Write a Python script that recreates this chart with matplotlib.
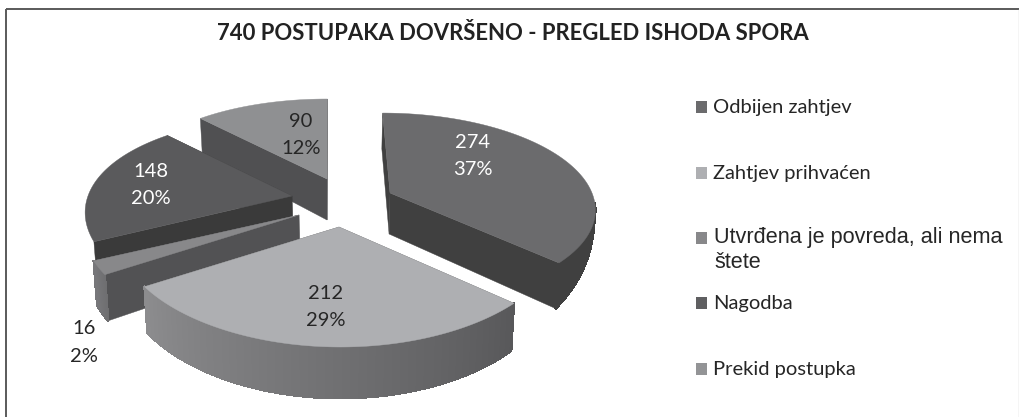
import numpy as np
import matplotlib
matplotlib.use("Agg")
import matplotlib.pyplot as plt
from matplotlib.patches import Polygon, Rectangle
from matplotlib.collections import PolyCollection

title = "740 POSTUPAKA DOVRŠENO - PREGLED ISHODA SPORA"
categories = ["Odbijen zahtjev", "Zahtjev prihvaćen", "Utvrđena je povreda, ali nema\nštete", "Nagodba", "Prekid postupka"]
values = [274, 212, 16, 148, 90]
percents = ["37%", "29%", "2%", "20%", "12%"]

# styles per slice
apex = [(390, 193), (339, 227), (299, 215), (292, 196), (327, 179)]
radius_scale = [1.0, 1.07, 1.05, 1.01, 1.0]
radius_y = [91.7, 96.0, 96.0, 96.0, 96.0]
persp_y = [0.147, 0.2, 0.2, 0.2, 0.2]
top_col = ["#6b6b6d", "#aeafb2", "#88888a", "#5a5a5c", "#8f9092"]
face_col = ["#404040", "#606060", "#525254", "#3a3a3a", "#505052"]
wall_l = ["#404040", "#58585a", "#6e6e70", "#5a5a5c", "#8f9092"]
wall_r = ["#404040", "#8c8c8e", "#77777a", "#5a5a5c", "#8f9092"]
wall_vmin = [0.1, -1.0, -1.0, 2.0, 2.0]
wall_taper = [True, False, False, False, False]
label_pos = [(473, 155.5), (326, 307), (84, 342.5), (151, 185), (301, 134.5)]
label_col = ["white", "#262626", "#262626", "white", "#262626"]
legend_col = ["#6b6b6d", "#aeafb2", "#88888a", "#5f5f61", "#939496"]
legend_y = [107, 173, 238, 303, 369]
order = [4, 3, 0, 2, 1]

RX, KX, DEPTH, VX, SHRINK = 202.0, 0.14, 41.0, 330.0, 0.985

fig = plt.figure(figsize=(10.2, 4.17), dpi=100)
ax = fig.add_axes([0, 0, 1, 1])
ax.set_xlim(0, 1020)
ax.set_ylim(417, 0)
ax.axis("off")


def project(a, deg, rs, ry, ky, depth=0.0):
    t = np.radians(deg)
    u, v = np.sin(t), -np.cos(t)
    sx = 1 / (1 - KX * v)
    sy = 1 / (1 - ky * v)
    x = VX + (a[0] - VX + RX * rs * u) * sx
    y = a[1] + ry * v * sy
    f = np.asarray(depth, dtype=float)
    x = VX + (x - VX) * (1 - (1 - SHRINK) * np.minimum(f, 1))
    y = y + DEPTH * sy * f
    return np.column_stack([x, y])


def hexrgb(c):
    return np.array(matplotlib.colors.to_rgb(c))


edges = np.concatenate([[0], np.cumsum(values)]) / sum(values) * 360
for z, i in enumerate(order):
    a = apex[i]
    rs, ry, ky = radius_scale[i], radius_y[i], persp_y[i]
    t0, t1 = edges[i], edges[i + 1]
    th = np.linspace(t0, t1, 160)
    v = -np.cos(np.radians(th))
    if wall_taper[i]:
        vend = v.max()
        f = np.clip((v - wall_vmin[i]) / (vend - wall_vmin[i]), 0, 1) ** 0.7
    else:
        f = np.ones_like(th)
    top = project(a, th, rs, ry, ky)
    bot = project(a, th, rs, ry, ky, f)
    full = project(a, th, rs, ry, ky, np.ones_like(th))
    c = np.array([[a[0], a[1]]])
    cb = np.array([[VX + (a[0] - VX) * SHRINK, a[1] + DEPTH]])
    base = z * 10 + 2
    for edge_top, edge_bot in ((top[:1], full[:1]), (top[-1:], full[-1:])):
        ax.add_patch(Polygon(np.vstack([c, edge_top, edge_bot, cb]), closed=True,
                             fc=face_col[i], ec=face_col[i], lw=0.3, zorder=base))
    quads, cols = [], []
    for j in range(len(th) - 1):
        if v[j] < wall_vmin[i]:
            continue
        quads.append([top[j], top[j + 1], bot[j + 1], bot[j]])
        g = j / (len(th) - 2)
        cols.append(tuple((1 - g) * hexrgb(wall_l[i]) + g * hexrgb(wall_r[i])))
    if quads:
        ax.add_collection(PolyCollection(quads, facecolors=cols, edgecolors=cols,
                                         linewidths=1.0, antialiased=False, zorder=base + 1))
    ax.add_patch(Polygon(np.vstack([c, top]), closed=True, fc=top_col[i], ec=top_col[i], lw=0.3, zorder=base + 2))

for val, p, (x, y), col in zip(values, percents, label_pos, label_col):
    ax.text(x, y - 13.5, str(val), ha="center", va="center", fontsize=14.5, family="Lato", color=col, zorder=100)
    ax.text(x, y + 13.5, p, ha="center", va="center", fontsize=14.5, family="Lato", color=col, zorder=100)

ax.text(512.5, 33, title, ha="center", va="center", fontsize=15.9, fontweight="bold",
        family="Lato", color="#222222")

for name, y, col in zip(categories, legend_y, legend_col):
    ax.add_patch(Rectangle((696, y - 6), 11, 12, fc=col, ec="none"))
    if "\n" in name:
        l1, l2 = name.split("\n")
        ax.text(714, y - 1, l1, ha="left", va="center", fontsize=15.6, family="Liberation Sans", color="#262626")
        ax.text(714, y + 25, l2, ha="left", va="center", fontsize=15.6, family="Liberation Sans", color="#262626")
    else:
        ax.text(713, y, name, ha="left", va="center", fontsize=14.5, family="Lato", color="#262626")

# chart frame
ax.plot([6.5, 6.5], [417, 8.5], color="#5a5a5a", lw=1.4, solid_capstyle="butt")
ax.plot([6, 1020], [8.5, 8.5], color="#5a5a5a", lw=1.4, solid_capstyle="butt")
ax.plot([1019, 1019], [9, 417], color="#cccccc", lw=1.0, solid_capstyle="butt")

fig.savefig("out.png", dpi=100)
